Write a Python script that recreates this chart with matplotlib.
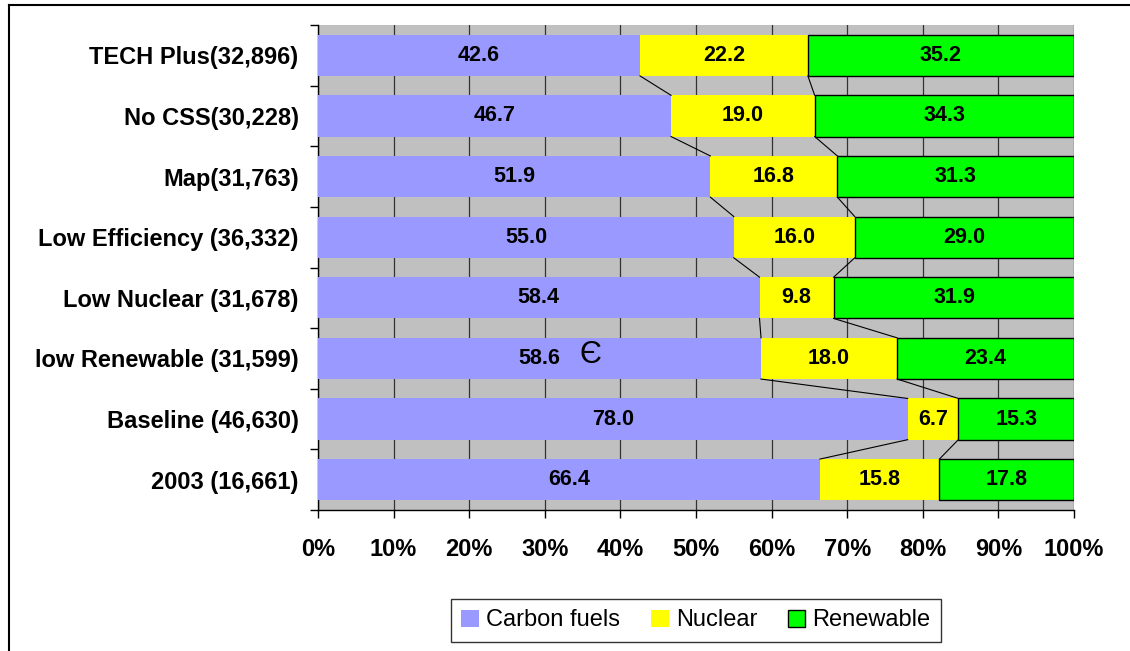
import matplotlib
matplotlib.use("Agg")
import matplotlib.pyplot as plt
from matplotlib.lines import Line2D
import numpy as np

plt.rcParams['font.family'] = ['Liberation Sans', 'DejaVu Sans']

scenarios = ["TECH Plus(32,896)", "No CSS(30,228)", "Map(31,763)",
             "Low Efficiency (36,332)", "Low Nuclear (31,678)",
             "low Renewable (31,599)", "Baseline (46,630)", "2003 (16,661)"]
carbon = [42.6, 46.7, 51.9, 55.0, 58.4, 58.6, 78.0, 66.4]
nuclear = [22.2, 19.0, 16.8, 16.0, 9.8, 18.0, 6.7, 15.8]
renewable = [35.2, 34.3, 31.3, 29.0, 31.9, 23.4, 15.3, 17.8]
series_names = ["Carbon fuels", "Nuclear", "Renewable"]
x_ticks = [0, 10, 20, 30, 40, 50, 60, 70, 80, 90, 100]

colors = ["#9999FF", "#FFFF00", "#00FF00"]
edges = ["none", "none", "black"]

fig = plt.figure(figsize=(11.3, 6.51), dpi=100)
ax = fig.add_axes([318 / 1130, 1 - 510 / 651, (1074 - 318) / 1130, (510 - 25) / 651])
ax.set_facecolor("#C0C0C0")

y = np.arange(len(scenarios))
bar_h = 0.68
data = [np.array(carbon), np.array(nuclear), np.array(renewable)]
left = np.zeros(len(scenarios))
for vals, c, ec, name in zip(data, colors, edges, series_names):
    ax.barh(y, vals, left=left, height=bar_h, color=c, edgecolor=ec,
            linewidth=1.0, label=name, zorder=3)
    for yi, l, v in zip(y, left, vals):
        ax.text(l + v / 2, yi, f"{v:.1f}", ha="center", va="center",
                fontsize=15.5, fontweight="bold", zorder=5)
    left = left + vals

# series lines joining segment ends of adjacent bars
cum1 = np.array(carbon)
cum2 = cum1 + np.array(nuclear)
for cum in (cum1, cum2):
    for i in range(len(scenarios) - 1):
        ax.plot([cum[i], cum[i + 1]], [y[i] + bar_h / 2, y[i + 1] - bar_h / 2],
                color="black", lw=0.8, zorder=4)

ax.set_xlim(0, 100)
ax.set_ylim(len(scenarios) - 0.5, -0.5)
ax.set_xticks(x_ticks)
ax.set_xticklabels([f"{t}%" for t in x_ticks], fontsize=17, fontweight="bold")
ax.set_yticks(y)
ax.set_yticklabels(scenarios, fontsize=17, fontweight="bold")
ax.set_yticks(np.arange(-0.5, len(scenarios), 1.0), minor=True)
ax.tick_params(axis="y", which="major", length=0, pad=14)
ax.tick_params(axis="y", which="minor", length=6, width=1, direction="out")
ax.tick_params(axis="x", which="major", length=6, width=1, direction="out", pad=14)

ax.grid(axis="x", color="#333333", lw=0.9, zorder=1)
ax.set_axisbelow(True)
for s in ("top", "right"):
    ax.spines[s].set_visible(False)
for s in ("left", "bottom"):
    ax.spines[s].set_color("black")
    ax.spines[s].set_linewidth(1.0)

ax.text(36, 5 - 0.05, "Є", ha="center", va="center", fontsize=22, zorder=6)

leg = fig.legend(loc="center", bbox_to_anchor=(696 / 1130, 1 - 620.5 / 651),
                 ncol=3, fontsize=17, frameon=True, fancybox=False,
                 handlelength=0.75, handleheight=0.75, handletextpad=0.3,
                 columnspacing=1.3, borderpad=0.45)
leg.get_frame().set_edgecolor("black")
leg.get_frame().set_linewidth(1.0)

# outer chart border
fig.add_artist(Line2D([9 / 1130, 9 / 1130], [0, 1 - 5 / 651], color="black", lw=1.5,
                      transform=fig.transFigure))
fig.add_artist(Line2D([9 / 1130, 1], [1 - 5 / 651, 1 - 5 / 651], color="black", lw=1.5,
                      transform=fig.transFigure))

fig.savefig("out.png", dpi=100)
